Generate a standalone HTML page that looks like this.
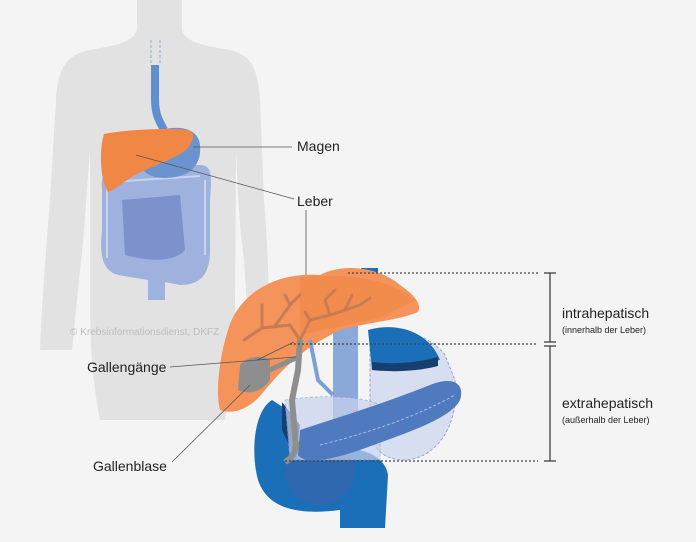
<!DOCTYPE html>
<html><head><meta charset="utf-8"><style>
html,body{margin:0;padding:0;background:#f4f4f4;}
svg{display:block}
text{font-family:"Liberation Sans",sans-serif;}
</style></head><body>
<svg width="696" height="542" viewBox="0 0 696 542" xmlns="http://www.w3.org/2000/svg">
<rect width="696" height="542" fill="#f4f4f4"/>
<path d="M137 0 L182 0 L182 30 C186 42 200 45 230 50 C252 55 258 70 260 100 L264 200 C268 250 270 300 268 350 L250 350 L244 260 C240 230 238 200 236 150 L235 300 C236 340 232 380 225 420 L215 420 L150 420 L100 420 C92 380 90 340 90 300 L90 150 C86 200 84 240 80 270 L72 350 L40 350 C42 300 46 250 50 200 L56 100 C58 68 66 55 90 50 C118 45 133 42 137 30 Z" fill="#e2e2e2"/>
<line x1="151" y1="40" x2="151" y2="65" stroke="#8fb0dc" stroke-width="1" stroke-dasharray="3,2"/>
<line x1="160" y1="40" x2="160" y2="65" stroke="#8fb0dc" stroke-width="1" stroke-dasharray="3,2"/>
<path d="M155 65 L155 100 C155 115 160 122 164 130" stroke="#5e8fd0" stroke-width="8" fill="none"/>
<path d="M102 190 C100 170 110 165 130 168 L200 165 C212 165 212 175 210 200 L210 250 C210 275 200 285 180 285 L165 282 L165 300 L148 300 L148 280 L118 275 C100 270 100 250 102 230 Z" fill="#9eb2dd"/>
<path d="M122 200 L180 195 L185 250 C175 262 150 262 125 255 Z" fill="#7d91cc"/>
<path d="M110 182 L200 176 M107 185 L107 258 M205 180 L205 255" stroke="#c9d4ee" stroke-width="2" fill="none"/>
<path d="M160 130 C180 125 198 128 200 145 C202 165 190 178 165 178 C150 178 142 172 142 165 Z" fill="#6b93d0"/>
<path d="M104 134 C130 129 170 128 188 130 C196 132 194 142 186 150 C170 162 145 168 130 178 C120 185 114 190 108 192 C100 180 99 150 104 134 Z" fill="#f08745"/>
<text x="70" y="335" font-size="10" fill="#bdbdbd">© Krebsinformationsdienst, DKFZ</text>
<line x1="193" y1="147" x2="292" y2="147" stroke="#555" stroke-width="0.8"/>
<line x1="136" y1="155" x2="294" y2="199" stroke="#555" stroke-width="0.8"/>
<line x1="306" y1="210" x2="306" y2="285" stroke="#555" stroke-width="0.8"/>
<text x="297" y="151" font-size="14" fill="#222">Magen</text>
<text x="297" y="206" font-size="14" fill="#222">Leber</text>
<rect x="361" y="268" width="17" height="30" fill="#1a6fb8"/>
<rect x="333" y="290" width="25" height="185" fill="#8aa8d8"/>
<path d="M370 330 C395 325 430 335 445 355 L455 380 C460 420 440 458 405 460 C385 460 372 450 370 430 Z" fill="#d7def0" stroke="#8fa5d5" stroke-dasharray="3,2"/>
<path d="M368 330 C395 322 428 330 440 360 L372 370 Z" fill="#1a6fb8"/>
<path d="M372 362 C395 365 420 362 438 357 L438 366 C415 372 390 372 372 370 Z" fill="#163f70"/>
<path d="M272 400 C255 410 250 450 258 480 C268 510 300 515 340 510 L340 528 L385 528 L388 475 C385 455 360 445 330 450 L300 460 L295 415 Z" fill="#1a6fb8"/>
<path d="M282 402 L300 425 L296 460 L282 430 Z" fill="#163f70"/>
<circle cx="320" cy="470" r="35" fill="#3a64ae" opacity="0.7"/>
<path d="M285 400 C320 395 360 395 380 405 L380 460 L290 460 Z" fill="#c8d3ee" opacity="0.7" stroke="#8fa5d5" stroke-dasharray="3,2"/>
<path d="M300 430 C330 420 380 405 430 385 C455 375 465 385 460 400 C450 420 400 435 360 450 C330 460 305 465 298 455 Z" fill="#4f7ac0"/>
<path d="M320 445 C360 435 410 420 455 395" stroke="#a9bde3" stroke-width="1" stroke-dasharray="3,2" fill="none"/>
<path d="M228 330 C240 290 280 272 320 275 C345 262 380 268 400 285 C415 295 422 305 418 312 C400 320 370 322 340 330 C310 345 290 360 265 390 C250 410 232 415 220 410 C215 390 220 355 228 330 Z" fill="#f4935a"/>
<path d="M300 278 C340 272 390 278 415 300 L380 318 L300 335 Z" fill="#f08745" opacity="0.6"/>
<g stroke="#c97b55" stroke-width="3" fill="none" stroke-linecap="round">
<path d="M300 340 L290 325 L262 328 L244 340"/>
<path d="M262 328 L262 305"/><path d="M275 326 L290 305 L300 295"/><path d="M290 305 L285 295"/>
<path d="M300 340 L310 320 L330 315 L360 305 L370 298"/>
<path d="M330 315 L325 300 L335 290"/><path d="M345 310 L352 295"/><path d="M310 320 L305 312"/>
</g>
<path d="M240 365 C250 355 262 355 270 360 L270 380 C262 392 248 395 238 390 Z" fill="#8e8e8e"/>
<path d="M300 340 L298 370 L292 400 L296 445 C294 458 288 460 285 462" stroke="#8e8e8e" stroke-width="6" fill="none"/>
<path d="M265 372 L296 358" stroke="#8e8e8e" stroke-width="5"/>
<path d="M310 340 L318 380 L333 395" stroke="#7b9fda" stroke-width="4" fill="none"/>
<line x1="170" y1="367" x2="296" y2="357" stroke="#555" stroke-width="0.8"/>
<line x1="257" y1="360" x2="294" y2="342" stroke="#555" stroke-width="0.8"/>
<line x1="172" y1="462" x2="250" y2="385" stroke="#555" stroke-width="0.8"/>
<text x="87" y="372" font-size="14" fill="#222">Gallengänge</text>
<text x="93" y="471" font-size="14" fill="#222">Gallenblase</text>
<g stroke="#444" stroke-width="1.2" stroke-dasharray="2,2">
<line x1="348" y1="273" x2="538" y2="273"/>
<line x1="290" y1="344" x2="538" y2="344"/>
<line x1="285" y1="461" x2="538" y2="461"/>
</g>
<g stroke="#333" stroke-width="1.2">
<line x1="550" y1="273" x2="550" y2="342"/>
<line x1="544" y1="273" x2="556" y2="273"/>
<line x1="544" y1="342" x2="556" y2="342"/>
<line x1="550" y1="346" x2="550" y2="461"/>
<line x1="544" y1="346" x2="556" y2="346"/>
<line x1="544" y1="461" x2="556" y2="461"/>
</g>
<text x="562" y="318" font-size="14" fill="#222">intrahepatisch</text>
<text x="562" y="333" font-size="9" fill="#222">(innerhalb der Leber)</text>
<text x="562" y="408" font-size="14" fill="#222">extrahepatisch</text>
<text x="562" y="423" font-size="9" fill="#222">(außerhalb der Leber)</text>
</svg>
</body></html>
